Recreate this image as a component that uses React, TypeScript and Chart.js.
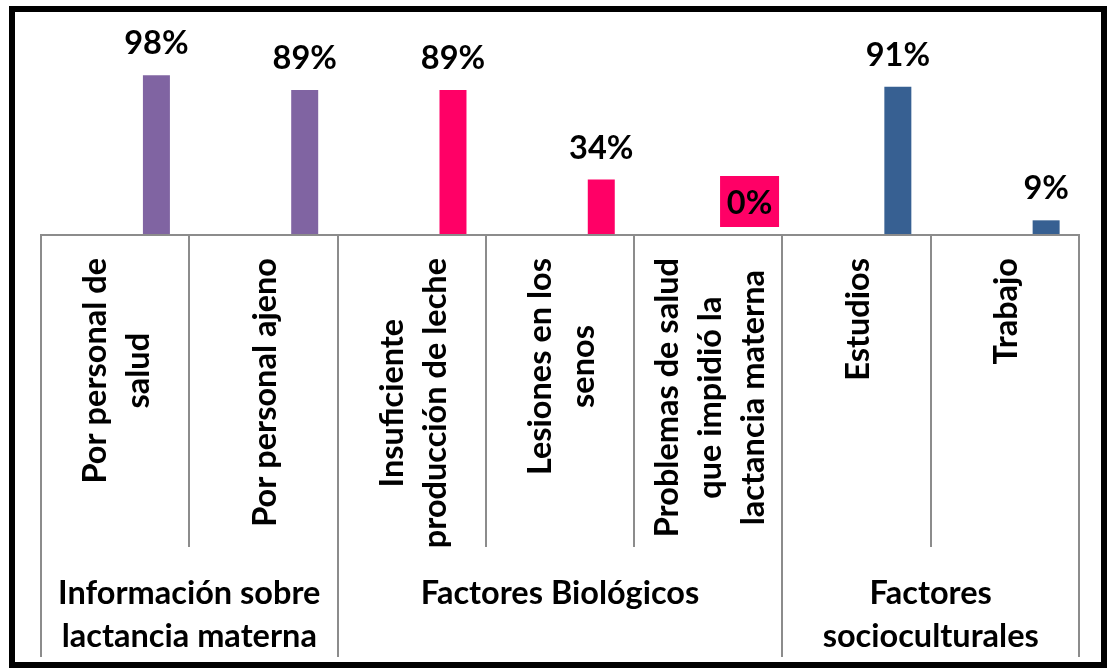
import React, { useEffect, useRef } from "react";
import { Chart, registerables } from "chart.js";

Chart.register(...registerables);

// ---- data ----
const categories: string[][] = [
  ["Por personal de", "salud"],
  ["Por personal ajeno"],
  ["Insuficiente", "producción de leche"],
  ["Lesiones en los", "senos"],
  ["Problemas de salud", "que impidió la", "lactancia materna"],
  ["Estudios"],
  ["Trabajo"],
];
const values: number[] = [98, 89, 89, 34, 0, 91, 9];
const groupLabels: string[][] = [
  ["Información sobre", "lactancia materna"],
  ["Factores Biológicos"],
  ["Factores", "socioculturales"],
];
const groupSizes: number[] = [2, 3, 2];
const barColors: string[] = [
  "#8064A2",
  "#8064A2",
  "#FF0066",
  "#FF0066",
  "#FF0066",
  "#376092",
  "#376092",
];

const FONT = "bold 32.5px Lato";
const LINE = 43;

const labelsPlugin = {
  id: "multiLevelLabels",
  afterDatasetsDraw(chart: any) {
    const ctx: CanvasRenderingContext2D = chart.ctx;
    const area = chart.chartArea;
    const xs = chart.scales.x;
    const n = categories.length;
    const edge = (i: number) =>
      i === 0
        ? area.left
        : i === n
        ? area.right
        : (xs.getPixelForValue(i - 1) + xs.getPixelForValue(i)) / 2;

    ctx.save();
    // axis line
    ctx.strokeStyle = "#8c8c8c";
    ctx.lineWidth = 2;
    ctx.beginPath();
    ctx.moveTo(area.left - 1, area.bottom);
    ctx.lineTo(area.right + 1, area.bottom);
    ctx.stroke();

    // dividers
    const groupEdges = new Set<number>([0]);
    let acc = 0;
    groupSizes.forEach((s) => {
      acc += s;
      groupEdges.add(acc);
    });
    for (let i = 0; i <= n; i++) {
      const x = Math.round(edge(i));
      const yEnd = groupEdges.has(i) ? area.bottom + 422 : area.bottom + 312;
      ctx.beginPath();
      ctx.moveTo(x, area.bottom);
      ctx.lineTo(x, yEnd);
      ctx.stroke();
    }

    // value labels
    const meta = chart.getDatasetMeta(2);
    ctx.font = FONT;
    ctx.textAlign = "center";
    ctx.textBaseline = "alphabetic";
    meta.data.forEach((el: any, i: number) => {
      const v = values[i];
      if (v === 0) {
        ctx.fillStyle = barColors[i];
        ctx.fillRect(el.x - 29.5, area.bottom - 59, 59, 51);
      }
      ctx.fillStyle = "#000";
      ctx.fillText(`${v}%`, el.x, el.y - 21);
    });

    // rotated category labels
    categories.forEach((lines, i) => {
      const cx = xs.getPixelForValue(i);
      const widths = lines.map((l) => ctx.measureText(l).width);
      const maxW = Math.max(...widths);
      const midY = area.bottom + 23 + maxW / 2;
      lines.forEach((line, j) => {
        const bx = cx + 12.5 + (j - (lines.length - 1) / 2) * LINE;
        ctx.save();
        ctx.translate(bx, midY);
        ctx.rotate(-Math.PI / 2);
        ctx.fillText(line, 0, 0);
        ctx.restore();
      });
    });

    // group labels
    let start = 0;
    groupLabels.forEach((lines, g) => {
      const end = start + groupSizes[g];
      const gx = (edge(start) + edge(end)) / 2;
      lines.forEach((line, j) => {
        ctx.fillText(line, gx, area.bottom + 369 + j * LINE);
      });
      start = end;
    });
    ctx.restore();
  },
};

export default function App() {
  const ref = useRef<HTMLCanvasElement | null>(null);
  useEffect(() => {
    if (!ref.current) return;
    const empty = categories.map(() => null);
    const chart = new Chart(ref.current, {
      type: "bar",
      data: {
        labels: categories.map((c) => c.join(" ")),
        datasets: [
          { data: empty as any, backgroundColor: barColors },
          { data: empty as any, backgroundColor: barColors },
          { data: values, backgroundColor: barColors },
        ],
      },
      options: {
        animation: false,
        responsive: true,
        maintainAspectRatio: false,
        layout: { padding: { top: 60, bottom: 427, left: 26, right: 22 } },
        datasets: { bar: { categoryPercentage: 0.835, barPercentage: 0.654 } },
        plugins: { legend: { display: false }, tooltip: { enabled: false } },
        scales: {
          x: { display: false },
          y: { display: false, min: 0, max: 100 },
        },
      },
      plugins: [labelsPlugin],
    });
    return () => chart.destroy();
  }, []);

  return (
    <div
      style={{
        position: "absolute",
        left: 9,
        top: 6,
        width: 1098,
        height: 662,
        boxSizing: "border-box",
        border: "6px solid #000",
        background: "#fff",
      }}
    >
      <div style={{ position: "relative", width: 1086, height: 650 }}>
        <canvas ref={ref} />
      </div>
    </div>
  );
}
